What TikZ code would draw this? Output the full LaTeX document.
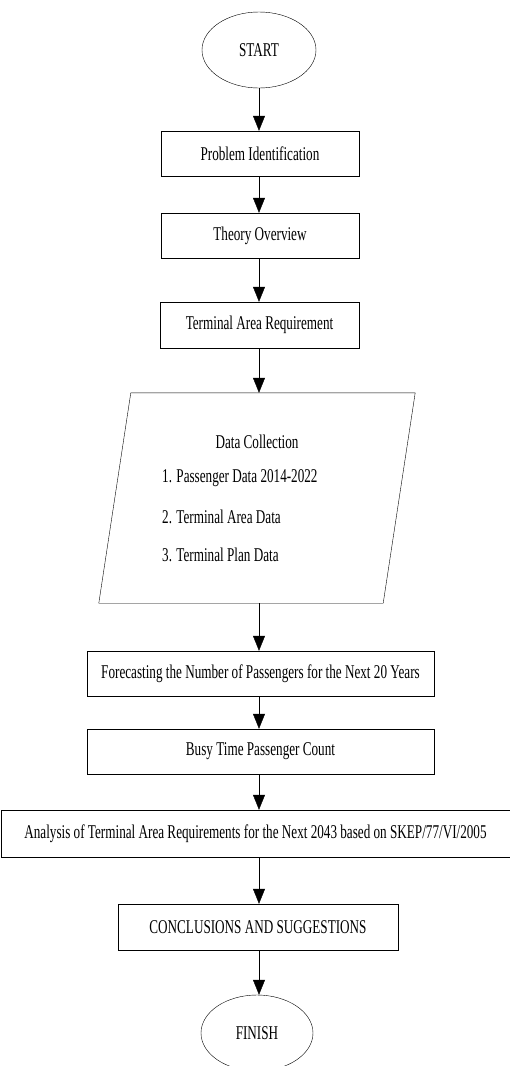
\documentclass[tikz,border=0pt]{standalone}
\usepackage{fontspec}
\setmainfont{Liberation Serif}[FakeStretch=0.675]
\usetikzlibrary{shapes,arrows.meta,calc,positioning}
\tikzset{
    -{Triangle[length=15pt,width=12pt]},x=1pt,y=-1pt,line width=0.8pt,
    state/.style ={ellipse, draw, inner sep=0pt, minimum width=114pt, minimum height=76pt,
        font=\fontsize{19.5pt}{22pt}\selectfont},
    process/.style ={rectangle, draw, inner sep=0pt, minimum height=46pt,
        font=\fontsize{19.5pt}{22pt}\selectfont},
    io/.style ={rectangle, inner sep=0pt},
    txt/.style = {inner sep=0pt, font=\fontsize{19.5pt}{22pt}\selectfont}
}
\begin{document}
\begin{tikzpicture}
    \useasboundingbox (0,0) rectangle (509,1066);

    %%Nodes
    \node[state] (start) at (259,50) {START};
    \node[process, minimum width=198pt, minimum height=45pt] (pi) at (260,153.5) {Problem Identification};
    \node[process, minimum width=198pt, minimum height=45pt] (to) at (260,235.5) {Theory Overview};
    \node[process, minimum width=199pt] (tar) at (259.5,325) {Terminal Area Requirement};

    %%Data collection
    \node[io, minimum width=284pt, minimum height=210pt] (data) at (257,498) {};
    \draw[-] ($(data.north west)+(16,0)$) -- ($(data.north east)+(16,0)$)
        -- ($(data.south east)+(-16,0)$) -- ($(data.south west)+(-16,0)$) -- cycle;
    \node[txt] (dc) at ($(data.center)+(0,-56)$) {Data Collection};
    \node[txt, anchor=west] (d1) at ($(data.center)+(-95,-20)$) {1. Passenger Data 2014-2022};
    \node[txt, anchor=west] (d2) at ($(data.center)+(-95,19)$) {2. Terminal Area Data};
    \node[txt, anchor=west] (d3) at ($(data.center)+(-95,57)$) {3. Terminal Plan Data};

    %%Nodes
    \node[process, minimum width=347pt, minimum height=45pt] (fc) at (260.5,673.5) {Forecasting the Number of Passengers for the Next 20 Years};
    \node[process, minimum width=347pt, minimum height=45pt] (busy) at (260.5,751.5) {Busy Time Passenger Count};
    \node[process, minimum width=509pt, minimum height=47pt] (ana) at (255.5,833.5) {Analysis of Terminal Area Requirements for the Next 2043 based on SKEP/77/VI/2005};
    \node[process, minimum width=280pt] (concl) at (258,927) {CONCLUSIONS AND SUGGESTIONS};
    \node[state, minimum width=112pt] (finish) at (257,1033) {FINISH};

    % Directed edge
    \path (start) edge (start |- pi.north);
    \path (pi.south -| start) edge (to.north -| start);
    \path (to.south -| start) edge (tar.north -| start);
    \path (tar.south -| start) edge (data.north -| start);
    \path (data.south -| start) edge (fc.north -| start);
    \path (fc.south -| start) edge (busy.north -| start);
    \path (busy.south -| start) edge (ana.north -| start);
    \path (ana.south -| start) edge (concl.north -| start);
    \path (concl.south -| start) edge (finish.north -| start);
\end{tikzpicture}
\end{document}
